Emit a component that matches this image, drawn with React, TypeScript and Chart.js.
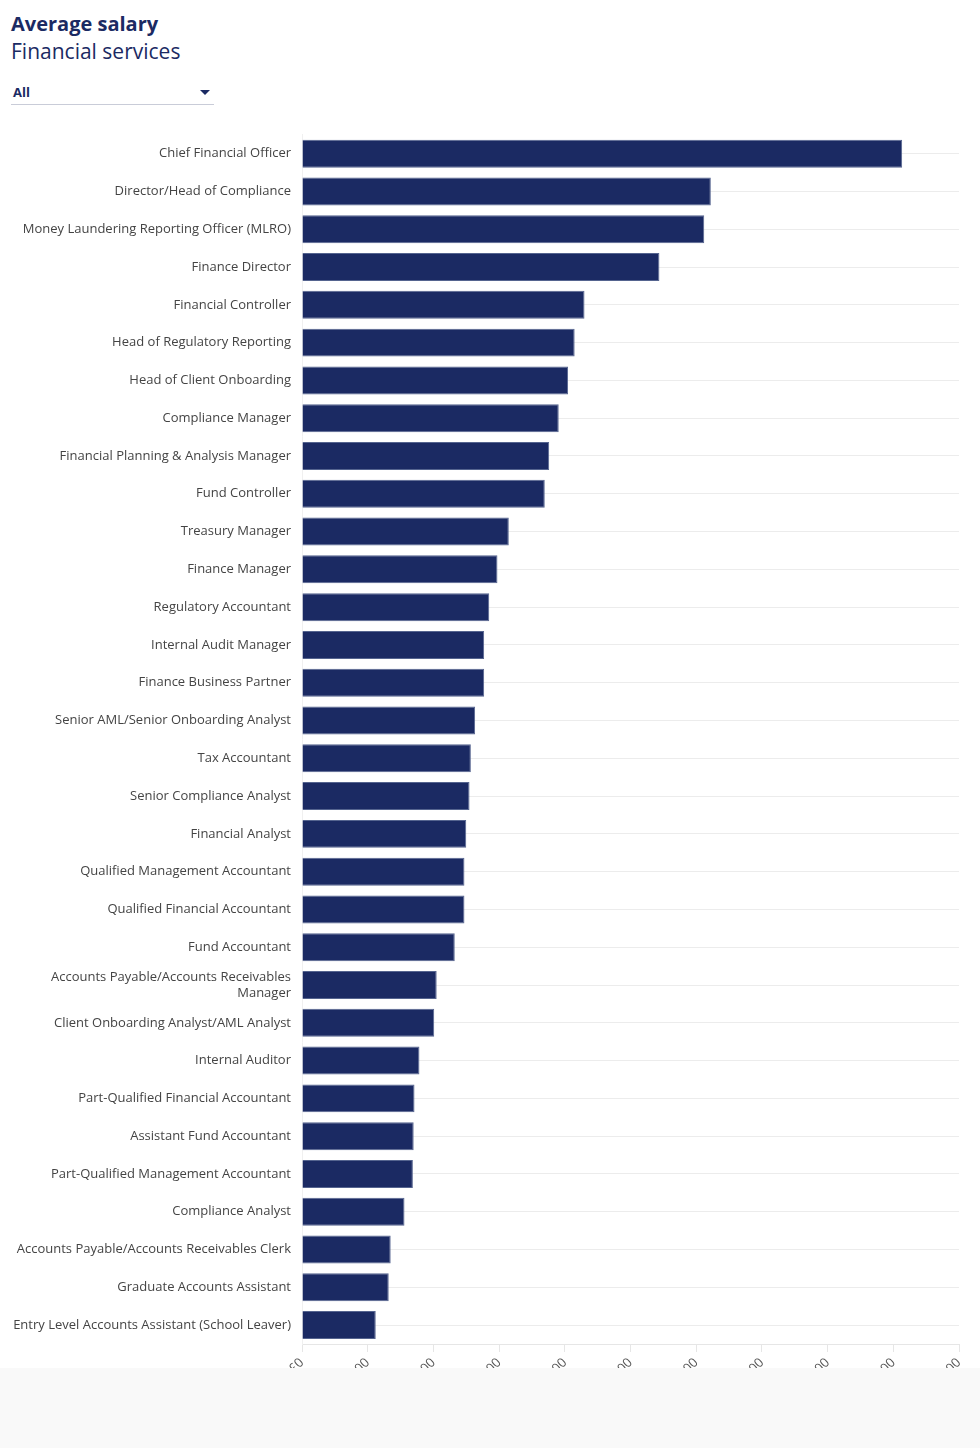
import React, { useEffect, useRef } from "react";
import { Chart, registerables } from "chart.js";

Chart.register(...registerables);

const NAVY = "#1b2a63";
const FONT = "'Open Sans', Lato, sans-serif";

const roles: (string | string[])[] = [
  "Chief Financial Officer",
  "Director/Head of Compliance",
  "Money Laundering Reporting Officer (MLRO)",
  "Finance Director",
  "Financial Controller",
  "Head of Regulatory Reporting",
  "Head of Client Onboarding",
  "Compliance Manager",
  "Financial Planning & Analysis Manager",
  "Fund Controller",
  "Treasury Manager",
  "Finance Manager",
  "Regulatory Accountant",
  "Internal Audit Manager",
  "Finance Business Partner",
  "Senior AML/Senior Onboarding Analyst",
  "Tax Accountant",
  "Senior Compliance Analyst",
  "Financial Analyst",
  "Qualified Management Accountant",
  "Qualified Financial Accountant",
  "Fund Accountant",
  ["Accounts Payable/Accounts Receivables", "Manager"],
  "Client Onboarding Analyst/AML Analyst",
  "Internal Auditor",
  "Part-Qualified Financial Accountant",
  "Assistant Fund Accountant",
  "Part-Qualified Management Accountant",
  "Compliance Analyst",
  "Accounts Payable/Accounts Receivables Clerk",
  "Graduate Accounts Assistant",
  "Entry Level Accounts Assistant (School Leaver)",
];

const salaries = [
  182700, 124450, 122450, 108800, 86000, 83000, 81000, 78150, 75250, 73900,
  62950, 59500, 57000, 55450, 55450, 52700, 51400, 51000, 50000, 49450,
  49450, 46500, 41000, 40250, 35750, 34250, 34000, 33750, 31200, 27000,
  26400, 22450,
];

const xMin = 0;
const xMax = 200000;
const xStep = 20000;

export default function App() {
  const canvasRef = useRef<HTMLCanvasElement>(null);

  useEffect(() => {
    if (!canvasRef.current) return;
    const chart = new Chart(canvasRef.current, {
      type: "bar",
      data: {
        labels: roles,
        datasets: [
          {
            label: "Average salary",
            data: salaries,
            backgroundColor: NAVY,
            borderColor: "#55648f",
            borderWidth: 1,
            borderSkipped: "left",
            barPercentage: 0.74,
            categoryPercentage: 1,
          },
        ],
      },
      options: {
        indexAxis: "y",
        animation: false,
        responsive: false,
        maintainAspectRatio: false,
        layout: { padding: { top: 0, right: 21, bottom: 0, left: 0 } },
        plugins: { legend: { display: false }, tooltip: { enabled: false } },
        scales: {
          x: {
            min: xMin,
            max: xMax,
            ticks: {
              stepSize: xStep,
              minRotation: 45,
              maxRotation: 45,
              color: "#555",
              font: { family: FONT, size: 13 },
              callback: (v) => "£" + Number(v).toLocaleString("en-GB"),
            },
            grid: { drawOnChartArea: false, drawTicks: true, tickLength: 8, color: "#e6e6e6" },
            border: { display: true, color: "#e6e6e6" },
            afterFit: (scale) => {
              scale.height = 66;
            },
          },
          y: {
            ticks: {
              color: "#444",
              padding: 11,
              autoSkip: false,
              font: { family: FONT, size: 13 },
            },
            grid: { color: "#ececec", drawTicks: false, offset: false },
            border: { display: true, color: "#f0f0f0" },
            afterFit: (scale) => {
              scale.width = 302;
            },
          },
        },
      },
    });
    return () => chart.destroy();
  }, []);

  return (
    <div
      style={{
        position: "absolute",
        top: 0,
        left: 0,
        width: 980,
        height: 1448,
        background: "#fff",
        fontFamily: FONT,
        overflow: "hidden",
      }}
    >
      <div style={{ position: "absolute", left: 11, top: 9, color: NAVY, fontWeight: 700, fontSize: 20, lineHeight: "30px" }}>
        Average salary
      </div>
      <div style={{ position: "absolute", left: 11, top: 36, color: NAVY, fontSize: 21, lineHeight: "30px" }}>
        Financial services
      </div>
      <div
        style={{
          position: "absolute",
          left: 11,
          top: 82,
          width: 203,
          height: 22,
          borderBottom: "1px solid #c9ccd8",
          color: NAVY,
          fontWeight: 700,
          fontSize: 13,
        }}
      >
        <span style={{ position: "absolute", left: 2, top: 1 }}>All</span>
        <span
          style={{
            position: "absolute",
            left: 189,
            top: 8,
            width: 0,
            height: 0,
            borderLeft: "5px solid transparent",
            borderRight: "5px solid transparent",
            borderTop: "5px solid " + NAVY,
          }}
        />
      </div>
      <div style={{ position: "absolute", left: 0, top: 116, width: 980, height: 1252, overflow: "hidden" }}>
        <canvas ref={canvasRef} width={980} height={1294} style={{ width: 980, height: 1294, display: "block" }} />
      </div>
      <div style={{ position: "absolute", left: 0, top: 1368, width: 980, height: 80, background: "#f9f9f9" }} />
    </div>
  );
}
